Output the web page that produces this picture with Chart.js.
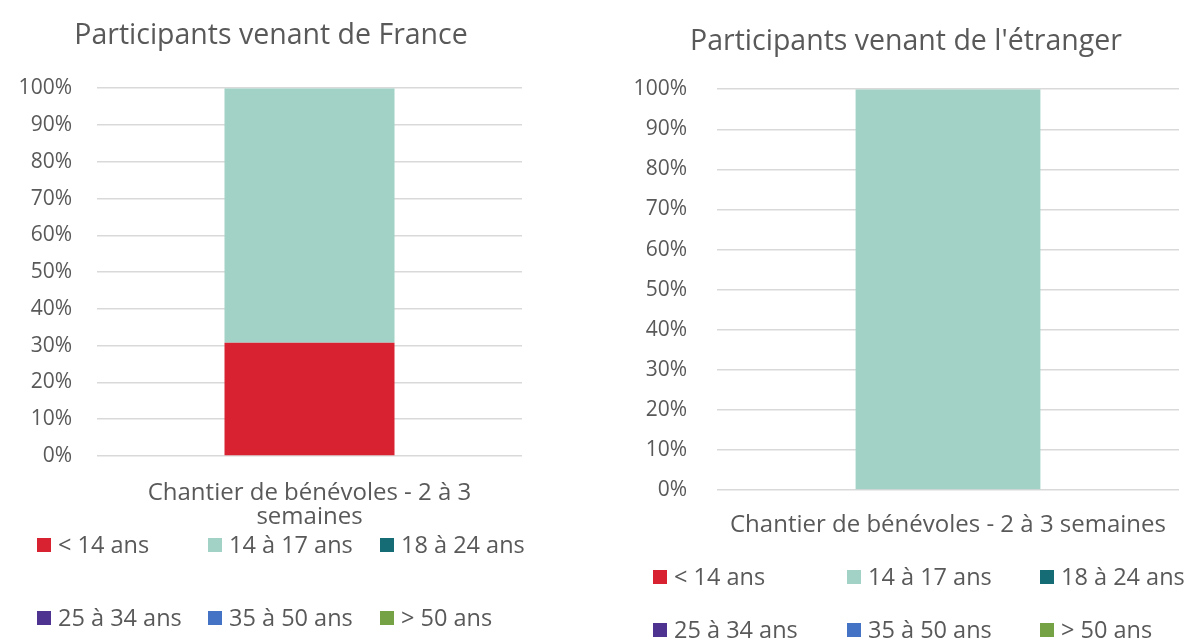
<!DOCTYPE html>
<html lang="fr">
<head>
    <meta charset="UTF-8">
    <title>Participants par tranche d'âge</title>
    <script src="https://cdn.jsdelivr.net/npm/chart.js"></script>
    <style>
        body { margin: 0; background: #fff; }
        .box { position: absolute; top: 0; height: 641px; }
        #left { left: 0; width: 560px; }
        #right { left: 625px; width: 566px; }
    </style>
</head>
<body>
<div class="box" id="left"><canvas id="chartFrance"></canvas></div>
<div class="box" id="right"><canvas id="chartEtranger"></canvas></div>
<script>
    // data
    const categories = ['Chantier de bénévoles - 2 à 3 semaines'];
    const ageGroups = ['< 14 ans', '14 à 17 ans', '18 à 24 ans', '25 à 34 ans', '35 à 50 ans', '> 50 ans'];
    const franceValues = [30.8, 69.2, 0, 0, 0, 0];
    const etrangerValues = [0, 100, 0, 0, 0, 0];
    const ageColors = ['#D92231', '#A1D2C5', '#166C74', '#4E3490', '#4472C4', '#74A244'];

    const grey = '#595959';
    const fontFamily = '"Open Sans", "Noto Sans", sans-serif';

    // legend drawn as a 3 column grid, like the original
    const gridLegend = {
        id: 'gridLegend',
        afterDraw(chart, args, opts) {
            const ctx = chart.ctx;
            ctx.save();
            ctx.font = opts.fontSize + 'px ' + fontFamily;
            ctx.textBaseline = 'middle';
            ctx.textAlign = 'left';
            chart.data.datasets.forEach((ds, i) => {
                const x = opts.cols[i % 3];
                const y = opts.rows[Math.floor(i / 3)];
                ctx.fillStyle = ds.backgroundColor;
                ctx.fillRect(x, y - 7, 14, 14);
                ctx.fillStyle = grey;
                ctx.fillText(ds.label, x + 21, y + 1);
            });
            ctx.restore();
        }
    };

    function makeChart(id, values, o) {
        const datasets = ageGroups.map((g, i) => ({
            label: g,
            data: [values[i]],
            backgroundColor: ageColors[i],
            borderWidth: 0
        }));
        return new Chart(document.getElementById(id), {
            type: 'bar',
            data: { labels: categories, datasets: datasets },
            plugins: [gridLegend],
            options: {
                responsive: true,
                maintainAspectRatio: false,
                animation: false,
                categoryPercentage: 0.4,
                barPercentage: 1.0,
                layout: { padding: { left: o.padLeft, right: o.padRight, top: 0, bottom: o.padBottom } },
                plugins: {
                    legend: { display: false },
                    tooltip: { enabled: false },
                    title: {
                        display: true,
                        text: o.title,
                        color: grey,
                        font: { family: fontFamily, size: 28.5, weight: 'normal', lineHeight: 1.2 },
                        padding: { top: o.titleTop, bottom: o.titleBottom }
                    },
                    gridLegend: { cols: o.legendCols, rows: o.legendRows, fontSize: 23.5 }
                },
                scales: {
                    x: {
                        stacked: true,
                        grid: { display: false, drawTicks: false },
                        border: { display: false },
                        ticks: {
                            color: grey,
                            padding: o.xPad,
                            maxRotation: 0,
                            font: { family: fontFamily, size: 24, lineHeight: 1.0 },
                            callback: function (v) {
                                const lbl = this.getLabelForValue(v);
                                if (!o.wrap) return lbl;
                                const cut = lbl.lastIndexOf(' ');
                                return [lbl.slice(0, cut), lbl.slice(cut + 1)];
                            }
                        },
                        afterFit: s => { s.height = o.xHeight; }
                    },
                    y: {
                        stacked: true,
                        min: 0,
                        max: 100,
                        ticks: {
                            stepSize: 10,
                            color: grey,
                            padding: o.yPad,
                            font: { family: fontFamily, size: 21 },
                            callback: v => v + '%'
                        },
                        grid: { color: '#D9D9D9', lineWidth: 1.5, drawTicks: false },
                        border: { display: false },
                        afterFit: s => { s.width = o.yWidth; }
                    }
                }
            }
        });
    }

    makeChart('chartFrance', franceValues, {
        title: 'Participants venant de France',
        titleTop: 19, titleBottom: 35,
        padLeft: 20, padRight: 38, padBottom: 95,
        yWidth: 77, yPad: 25,
        xHeight: 90, xPad: 25, wrap: true,
        legendCols: [37, 208, 380], legendRows: [545, 618]
    });

    makeChart('chartEtranger', etrangerValues, {
        title: "Participants venant de l'étranger",
        titleTop: 25, titleBottom: 30,
        padLeft: 0, padRight: 4, padBottom: 91,
        yWidth: 92, yPad: 30,
        xHeight: 60, xPad: 23, wrap: false,
        legendCols: [28, 222, 415], legendRows: [577, 630]
    });
</script>
</body>
</html>
